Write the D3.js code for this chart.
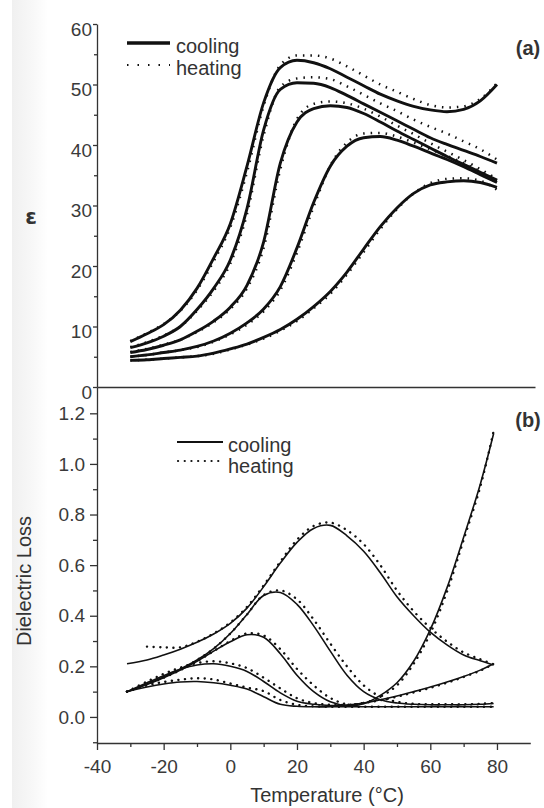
<!DOCTYPE html>
<html>
<head>
<meta charset="utf-8">
<script src="https://cdn.jsdelivr.net/npm/d3@7"></script>
<style>
  html, body { margin: 0; padding: 0; background: #fff; }
  svg { display: block; }
  text { font-family: "Liberation Sans", Arial, Helvetica, sans-serif; fill: #333; }
  .axis path, .axis line { stroke: #333; stroke-width: 1.3; fill: none; }
  .axis text { font-size: 19px; fill: #3a3a3a; }
</style>
</head>
<body>
<svg id="chart" width="544" height="808"></svg>
<script>
// ---------- (a) permittivity vs temperature ----------
const tempsEps = [-30, -25, -20, -15, -10, -5, 0, 5, 10, 15, 20, 25, 30, 35, 40, 45, 50, 55, 60, 65, 70, 75, 80];

const epsCool1 = [7.5, 8.8, 10.3, 12.7, 16.3, 21.3, 27.0, 36.5, 47.0, 52.8, 54.0, 53.6, 52.6, 51.2, 49.8, 48.4, 47.3, 46.4, 45.8, 45.5, 45.9, 47.3, 50.0];
const epsCool2 = [6.5, 7.3, 8.4, 10.0, 12.8, 16.3, 21.0, 29.5, 42.5, 49.2, 50.3, 50.2, 49.5, 48.2, 46.8, 45.4, 44.0, 42.6, 41.2, 40.1, 39.1, 38.1, 37.0];
const epsCool3 = [5.7, 6.2, 6.9, 7.8, 9.2, 10.9, 13.2, 16.8, 24.0, 37.0, 43.8, 46.0, 46.5, 46.2, 45.2, 43.8, 42.3, 40.9, 39.5, 38.1, 36.8, 35.5, 34.2];
const epsCool4 = [5.0, 5.3, 5.7, 6.1, 6.7, 7.6, 8.9, 10.6, 12.9, 16.6, 23.0, 30.5, 36.5, 39.8, 41.2, 41.4, 40.8, 39.8, 38.7, 37.6, 36.4, 35.1, 33.8];
const epsCool5 = [4.4, 4.5, 4.7, 4.9, 5.1, 5.6, 6.3, 7.1, 8.2, 9.5, 11.2, 13.3, 15.8, 19.0, 22.8, 26.5, 29.6, 32.0, 33.4, 33.9, 34.1, 33.8, 33.0];

const epsHeat1 = [7.6, 8.9, 10.4, 12.6, 16.0, 20.8, 26.4, 35.5, 46.5, 53.2, 54.8, 54.8, 54.3, 53.0, 51.5, 50.0, 48.8, 47.6, 46.6, 46.2, 46.4, 47.6, 50.2];
const epsHeat2 = [6.6, 7.4, 8.5, 10.0, 12.6, 15.9, 20.4, 28.6, 41.6, 49.6, 51.0, 51.2, 50.9, 49.7, 48.3, 46.9, 45.6, 44.2, 43.0, 41.9, 40.6, 39.3, 37.6];
const epsHeat3 = [5.8, 6.3, 7.0, 7.8, 9.1, 10.7, 12.9, 16.3, 23.0, 36.0, 44.3, 46.8, 47.2, 46.9, 46.0, 44.7, 43.2, 41.8, 40.3, 38.9, 37.5, 36.0, 34.4];
const epsHeat4 = [5.0, 5.3, 5.7, 6.1, 6.6, 7.5, 8.7, 10.3, 12.5, 16.0, 22.2, 29.8, 36.6, 40.4, 41.9, 42.0, 41.4, 40.4, 39.3, 38.2, 37.0, 35.6, 34.1];
const epsHeat5 = [4.4, 4.5, 4.7, 4.9, 5.1, 5.5, 6.2, 7.0, 8.0, 9.3, 10.9, 13.0, 15.4, 18.6, 22.3, 26.1, 29.4, 32.0, 33.7, 34.4, 34.5, 34.1, 32.6];

const epsTicks = [0, 10, 20, 30, 40, 50, 60];
const epsMinorTicks = [5, 15, 25, 35, 45, 55];

// ---------- (b) dielectric loss vs temperature ----------
const tempsLoss = [-31, -25, -20, -15, -10, -5, 0, 5, 10, 15, 20, 25, 30, 35, 40, 45, 50, 55, 60, 65, 70, 75, 79];

const lossCoolA = [0.21, 0.225, 0.245, 0.268, 0.295, 0.328, 0.37, 0.43, 0.515, 0.608, 0.69, 0.745, 0.757, 0.716, 0.655, 0.57, 0.475, 0.40, 0.335, 0.285, 0.245, 0.222, 0.205];
const lossCoolB = [0.10, 0.13, 0.158, 0.19, 0.225, 0.27, 0.33, 0.405, 0.48, 0.492, 0.445, 0.36, 0.26, 0.165, 0.10, 0.068, 0.055, 0.05, 0.048, 0.048, 0.048, 0.05, 0.053];
const lossCoolC = [0.10, 0.128, 0.155, 0.185, 0.22, 0.26, 0.297, 0.325, 0.315, 0.25, 0.165, 0.10, 0.06, 0.045, 0.052, 0.085, 0.135, 0.22, 0.345, 0.51, 0.71, 0.92, 1.12];
const lossCoolD = [0.10, 0.135, 0.163, 0.188, 0.205, 0.21, 0.20, 0.18, 0.14, 0.095, 0.062, 0.05, 0.045, 0.047, 0.055, 0.068, 0.083, 0.10, 0.118, 0.138, 0.16, 0.185, 0.21];
const lossCoolE = [0.10, 0.118, 0.13, 0.138, 0.14, 0.135, 0.125, 0.11, 0.08, 0.05, 0.042, 0.04, 0.04, 0.04, 0.04, 0.04, 0.04, 0.04, 0.04, 0.04, 0.04, 0.04, 0.04];

const lossHeatA = [null, 0.278, 0.275, 0.275, 0.297, 0.33, 0.373, 0.435, 0.52, 0.614, 0.70, 0.755, 0.768, 0.738, 0.683, 0.60, 0.50, 0.418, 0.352, 0.298, 0.255, 0.228, 0.208];
const lossHeatB = [0.10, 0.13, 0.158, 0.19, 0.225, 0.27, 0.33, 0.405, 0.482, 0.50, 0.465, 0.385, 0.29, 0.20, 0.125, 0.08, 0.06, 0.052, 0.05, 0.05, 0.05, 0.052, 0.055];
const lossHeatC = [0.10, 0.128, 0.155, 0.185, 0.22, 0.26, 0.30, 0.33, 0.322, 0.268, 0.19, 0.125, 0.075, 0.05, 0.055, 0.08, 0.125, 0.21, 0.33, 0.495, 0.70, 0.91, 1.13];
const lossHeatD = [0.10, 0.14, 0.17, 0.195, 0.213, 0.22, 0.212, 0.193, 0.155, 0.113, 0.074, 0.055, 0.048, 0.048, 0.055, 0.066, 0.08, 0.097, 0.115, 0.135, 0.158, 0.183, 0.21];
const lossHeatE = [0.10, 0.125, 0.138, 0.147, 0.153, 0.148, 0.132, 0.116, 0.102, 0.067, 0.048, 0.042, 0.04, 0.04, 0.04, 0.04, 0.04, 0.04, 0.04, 0.04, 0.04, 0.04, 0.04];

const lossTicks = [0.0, 0.2, 0.4, 0.6, 0.8, 1.0, 1.2];
const lossMinorTicks = [-0.1, 0.1, 0.3, 0.5, 0.7, 0.9, 1.1];

const tempTicks = [-40, -20, 0, 20, 40, 60, 80];
const tempMinorTicks = [-30, -10, 10, 30, 50, 70];

// ---------- layout ----------
const svg = d3.select("#chart");

// faint grey band on the left margin
const defs = svg.append("defs");
const grad = defs.append("linearGradient").attr("id", "edge").attr("x1", 0).attr("x2", 1);
grad.append("stop").attr("offset", "0%").attr("stop-color", "#f0f0f0");
grad.append("stop").attr("offset", "60%").attr("stop-color", "#f8f8f8");
grad.append("stop").attr("offset", "100%").attr("stop-color", "#ffffff");
svg.append("rect").attr("x", 12).attr("y", 0).attr("width", 36).attr("height", 808).attr("fill", "url(#edge)");

const x = d3.scaleLinear().domain([-40, 90]).range([97, 530.3]);
const xTop = d3.scaleLinear().domain([-40, x.invert(535)]).range([97, 535]);
const yEps = d3.scaleLinear().domain([0, 60]).range([387, 24]);
const yLoss = d3.scaleLinear().domain([-0.103, 1.304]).range([743, 387]);

const pts = (temps, vals) => temps.map((t, i) => ({ t, v: vals[i] }));
const plain = d => String(d);   // hyphen-minus, as printed on the axis

// ---------- panel (a) ----------
const gA = svg.append("g");

const lineEps = d3.line()
  .defined(d => d.v != null)
  .x(d => x(d.t)).y(d => yEps(d.v))
  .curve(d3.curveMonotoneX);

[epsHeat1, epsHeat2, epsHeat3, epsHeat4, epsHeat5].forEach(s => {
  gA.append("path").datum(pts(tempsEps, s))
    .attr("d", lineEps).attr("fill", "none")
    .attr("stroke", "#111").attr("stroke-width", 2.5)
    .attr("stroke-dasharray", "1.5,6");
});
[epsCool1, epsCool2, epsCool3, epsCool4, epsCool5].forEach(s => {
  gA.append("path").datum(pts(tempsEps, s))
    .attr("d", lineEps).attr("fill", "none")
    .attr("stroke", "#111").attr("stroke-width", 2.9)
    .attr("stroke-linejoin", "round");
});

// left axis of (a)
const axEps = gA.append("g").attr("class", "axis").attr("transform", `translate(${x(-40)},0)`)
  .call(d3.axisLeft(yEps).tickValues(epsTicks).tickFormat(plain).tickSize(4).tickPadding(1).tickSizeOuter(0));
axEps.selectAll("text").attr("dy", "0.6em");
gA.append("g").attr("class", "axis").attr("transform", `translate(${x(-40)},0)`)
  .call(d3.axisLeft(yEps).tickValues(epsMinorTicks).tickSize(3).tickFormat("").tickSizeOuter(0))
  .select(".domain").remove();

// baseline of (a)
gA.append("g").attr("class", "axis").attr("transform", `translate(0,${yEps(0)})`)
  .call(d3.axisBottom(xTop).tickValues([]).tickSizeOuter(0));

gA.append("text").attr("x", 31).attr("y", 224).attr("text-anchor", "middle")
  .style("font-family", "'DejaVu Sans', sans-serif").style("font-size", "21px").style("font-weight", "bold")
  .text("ε");

// legend (a)
gA.append("line").attr("x1", 127).attr("x2", 170).attr("y1", 43).attr("y2", 43)
  .attr("stroke", "#111").attr("stroke-width", 3.4);
gA.append("line").attr("x1", 127).attr("x2", 170).attr("y1", 65).attr("y2", 65)
  .attr("stroke", "#111").attr("stroke-width", 2).attr("stroke-dasharray", "1.5,9");
gA.append("text").attr("x", 176).attr("y", 53).style("font-size", "20px").text("cooling");
gA.append("text").attr("x", 176).attr("y", 75).style("font-size", "20px").text("heating");
gA.append("text").attr("x", 528).attr("y", 55).attr("text-anchor", "middle")
  .style("font-size", "20px").style("font-weight", "bold").text("(a)");

// ---------- panel (b) ----------
const gB = svg.append("g");

const lineLoss = d3.line()
  .defined(d => d.v != null)
  .x(d => x(d.t)).y(d => yLoss(d.v))
  .curve(d3.curveCatmullRom.alpha(0.5));

[lossHeatA, lossHeatB, lossHeatC, lossHeatD, lossHeatE].forEach(s => {
  gB.append("path").datum(pts(tempsLoss, s))
    .attr("d", lineLoss).attr("fill", "none")
    .attr("stroke", "#111").attr("stroke-width", 2.4)
    .attr("stroke-linecap", "round")
    .attr("stroke-dasharray", "0.1,6.5");
});
[lossCoolA, lossCoolB, lossCoolC, lossCoolD, lossCoolE].forEach(s => {
  gB.append("path").datum(pts(tempsLoss, s))
    .attr("d", lineLoss).attr("fill", "none")
    .attr("stroke", "#111").attr("stroke-width", 1.6)
    .attr("stroke-linejoin", "round");
});

// left axis of (b)
gB.append("g").attr("class", "axis").attr("transform", `translate(${x(-40)},0)`)
  .call(d3.axisLeft(yLoss).tickValues(lossTicks).tickFormat(d3.format(".1f")).tickSize(7).tickPadding(5).tickSizeOuter(0));
gB.append("g").attr("class", "axis").attr("transform", `translate(${x(-40)},0)`)
  .call(d3.axisLeft(yLoss).tickValues(lossMinorTicks).tickSize(4).tickFormat("").tickSizeOuter(0))
  .select(".domain").remove();

// bottom axis
gB.append("g").attr("class", "axis").attr("transform", `translate(0,${yLoss.range()[0]})`)
  .call(d3.axisBottom(x).tickValues(tempTicks).tickFormat(plain).tickSize(7).tickPadding(10).tickSizeOuter(0));
gB.append("g").attr("class", "axis").attr("transform", `translate(0,${yLoss.range()[0]})`)
  .call(d3.axisBottom(x).tickValues(tempMinorTicks).tickSize(4).tickFormat("").tickSizeOuter(0))
  .select(".domain").remove();

gB.append("text").attr("x", 327).attr("y", 802).attr("text-anchor", "middle")
  .style("font-size", "20px").text("Temperature (°C)");
gB.append("text").attr("transform", "translate(31,581) rotate(-90)").attr("text-anchor", "middle")
  .style("font-size", "20px").text("Dielectric Loss");

// legend (b)
gB.append("line").attr("x1", 177).attr("x2", 223).attr("y1", 442).attr("y2", 442)
  .attr("stroke", "#111").attr("stroke-width", 1.8);
gB.append("line").attr("x1", 178).attr("x2", 223).attr("y1", 461).attr("y2", 461)
  .attr("stroke", "#111").attr("stroke-width", 2.2).attr("stroke-linecap", "round")
  .attr("stroke-dasharray", "0.1,6.6");
gB.append("text").attr("x", 228).attr("y", 452).style("font-size", "20px").text("cooling");
gB.append("text").attr("x", 228).attr("y", 473).style("font-size", "20px").text("heating");
gB.append("text").attr("x", 528).attr("y", 427).attr("text-anchor", "middle")
  .style("font-size", "20px").style("font-weight", "bold").text("(b)");
</script>
</body>
</html>
